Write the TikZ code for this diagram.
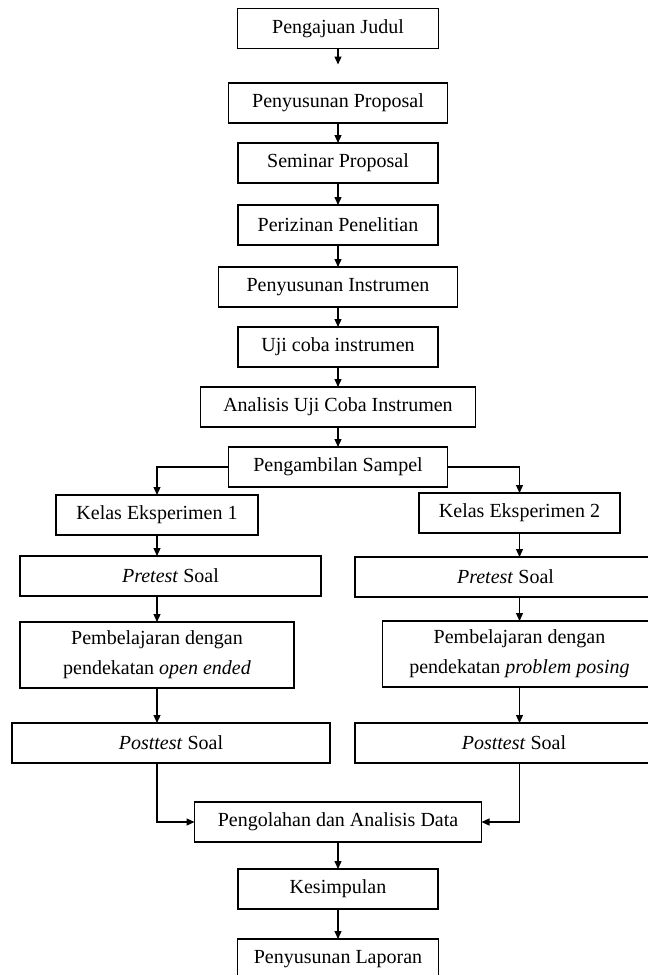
\documentclass[tikz,border=0pt]{standalone}
\usepackage{fontspec}
\setmainfont{Liberation Serif}
\usepackage{tikz}
\usetikzlibrary{arrows.meta,positioning}
\tikzset{
    box/.style={draw, line width=1.3pt, minimum height=40pt, align=center, inner sep=4pt, outer sep=0pt},
    flow/.style={-{Triangle[length=8pt, width=7pt]}, line width=1.2pt}
}

\begin{document}
\begin{tikzpicture}[x=1pt, y=1pt, node distance=20pt, font=\fontsize{20}{30}\selectfont]
                    \useasboundingbox (0,0) rectangle (648,-975);
                    \clip (0,0) rectangle (648,-975);
                    % middle column
                    \node[box, minimum width=201pt] (judul) at (338,-28.5) {Pengajuan Judul};
                    \coordinate[below=16pt of judul] (judulend);
                    \node[box, minimum width=219pt, below=34.5pt of judul] (proposal) {Penyusunan Proposal};
                    \node[box, minimum width=200pt, below=of proposal] (seminar) {Seminar Proposal};
                    \node[box, minimum width=200pt, below=22pt of seminar] (izin) {Perizinan Penelitian};
                    \node[box, minimum width=239pt, below=22pt of izin] (instrumen) {Penyusunan Instrumen};
                    \node[box, minimum width=200pt, below=of instrumen] (ujicoba) {Uji coba instrumen};
                    \node[box, minimum width=275pt, below=of ujicoba] (analisis) {Analisis Uji Coba Instrumen};
                    \node[box, minimum width=219pt, below=of analisis] (sampel) {Pengambilan Sampel};
                    % two classes
                    \node[box, minimum width=202pt, below=8pt of sampel, xshift=-181pt] (kelas1) {Kelas Eksperimen 1};
                    \node[box, minimum width=201pt, below=6pt of sampel, xshift=181.5pt] (kelas2) {Kelas Eksperimen 2};
                    \node[box, minimum width=301pt, below=21pt of kelas1, xshift=13.5pt] (pretest1) {\textit{Pretest} Soal};
                    \node[box, minimum width=301pt, below=24pt of kelas2, xshift=-14pt] (pretest2) {\textit{Pretest} Soal};
                    \node[box, minimum width=274pt, minimum height=66pt, below=26pt of pretest1, xshift=-13.5pt] (ajar1) {Pembelajaran dengan\\pendekatan \textit{open ended}};
                    \node[box, minimum width=274pt, minimum height=66pt, below=24pt of pretest2, xshift=14pt] (ajar2) {Pembelajaran dengan\\pendekatan \textit{problem posing}};
                    \node[box, minimum width=318pt, below=35pt of ajar1, xshift=14pt] (posttest1) {\textit{Posttest} Soal};
                    \node[box, minimum width=318pt, below=36pt of ajar2, xshift=-5.5pt] (posttest2) {\textit{Posttest} Soal};
                    % back to the middle
                    \node[box, minimum width=287pt, below=39pt of posttest1, xshift=167pt] (olah) {Pengolahan dan Analisis Data};
                    \node[box, minimum width=200pt, below=27pt of olah] (simpul) {Kesimpulan};
                    \node[box, minimum width=201pt, below=30pt of simpul] (laporan) {Penyusunan Laporan};

                    \draw[flow] (judul) -- (judulend);
                    \draw[flow] (proposal) -- (seminar);
                    \draw[flow] (seminar) -- (izin);
                    \draw[flow] (izin) -- (instrumen);
                    \draw[flow] (instrumen) -- (ujicoba);
                    \draw[flow] (ujicoba) -- (analisis);
                    \draw[flow] (analisis) -- (sampel);
                    \draw[flow] (sampel.west) -| (kelas1);
                    \draw[flow] (sampel.east) -| (kelas2);
                    \draw[flow] (kelas1) -- (kelas1 |- pretest1.north);
                    \draw[flow] (kelas2) -- (kelas2 |- pretest2.north);
                    \draw[flow] (ajar1 |- pretest1.south) -- (ajar1);
                    \draw[flow] (ajar2 |- pretest2.south) -- (ajar2);
                    \draw[flow] (ajar1) -- (ajar1 |- posttest1.north);
                    \draw[flow] (ajar2) -- (ajar2 |- posttest2.north);
                    \draw[flow] (ajar1 |- posttest1.south) |- (olah);
                    \draw[flow] (ajar2 |- posttest2.south) |- (olah);
                    \draw[flow] (olah) -- (simpul);
                    \draw[flow] (simpul) -- (laporan);
                \end{tikzpicture}
\end{document}
